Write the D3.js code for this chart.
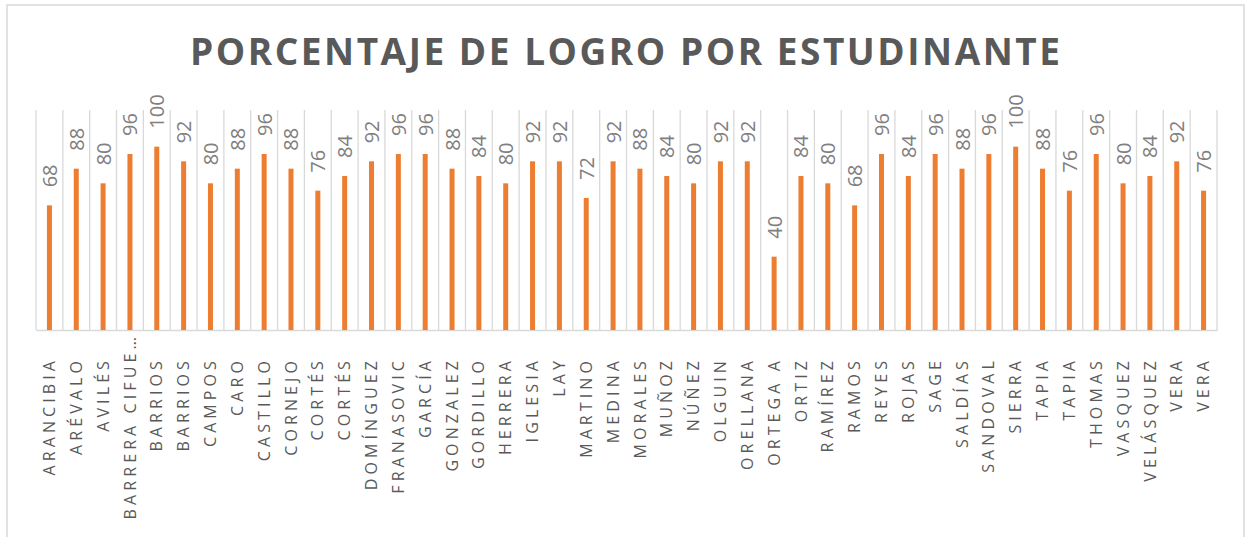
<!DOCTYPE html>
<html>
<head>
<meta charset="utf-8">
<script src="https://cdn.jsdelivr.net/npm/d3@7"></script>
<style>
  body { margin: 0; background: #fff; }
  svg { display: block; }
</style>
</head>
<body>
<div id="chart"></div>
<script>
const width = 1246;
const height = 537;

const students = ["ARANCIBIA", "ARÉVALO", "AVILÉS", "BARRERA CIFUE…", "BARRIOS", "BARRIOS", "CAMPOS", "CARO",
  "CASTILLO", "CORNEJO", "CORTÉS", "CORTÉS", "DOMÍNGUEZ", "FRANASOVIC", "GARCÍA", "GONZALEZ", "GORDILLO",
  "HERRERA", "IGLESIA", "LAY", "MARTINO", "MEDINA", "MORALES", "MUÑOZ", "NÚÑEZ", "OLGUIN", "ORELLANA",
  "ORTEGA A", "ORTIZ", "RAMÍREZ", "RAMOS", "REYES", "ROJAS", "SAGE", "SALDÍAS", "SANDOVAL", "SIERRA",
  "TAPIA", "TAPIA", "THOMAS", "VASQUEZ", "VELÁSQUEZ", "VERA", "VERA"];
const logro = [68, 88, 80, 96, 100, 92, 80, 88, 96, 88, 76, 84, 92, 96, 96, 88, 84, 80, 92, 92, 72, 92,
  88, 84, 80, 92, 92, 40, 84, 80, 68, 96, 84, 96, 88, 96, 100, 88, 76, 96, 80, 84, 92, 76];
const yMax = 120;

const margin = {top: 110, right: 29, bottom: 207, left: 36};

const svg = d3.select("#chart")
  .append("svg")
  .attr("width", width)
  .attr("height", height);

// chart frame
svg.append("rect")
  .attr("x", 7).attr("y", 5)
  .attr("width", 1237).attr("height", 540)
  .attr("fill", "none")
  .attr("stroke", "#d9d9d9")
  .attr("stroke-width", 1.5);

svg.append("text")
  .attr("x", 625).attr("y", 65)
  .attr("text-anchor", "middle")
  .attr("textLength", 870)
  .attr("lengthAdjust", "spacing")
  .style("font-family", "'Open Sans', sans-serif")
  .style("font-weight", "bold")
  .style("font-size", "37px")
  .attr("fill", "#595959")
  .text("PORCENTAJE DE LOGRO POR ESTUDINANTE");

const idx = d3.range(students.length);
const x = d3.scaleBand()
  .domain(idx)
  .range([margin.left, width - margin.right]);
const y = d3.scaleLinear()
  .domain([0, yMax])
  .range([height - margin.bottom, margin.top]);

// vertical gridlines between categories
const g = svg.append("g");
g.selectAll("line.grid")
  .data(d3.range(students.length + 1))
  .join("line")
  .attr("class", "grid")
  .attr("x1", i => margin.left + i * x.step())
  .attr("x2", i => margin.left + i * x.step())
  .attr("y1", y(yMax))
  .attr("y2", y(0))
  .attr("stroke", "#d9d9d9")
  .attr("stroke-width", 1.3);

// baseline + category labels
const xAxis = d3.axisBottom(x).tickSize(0).tickFormat(i => students[i]);
const ax = svg.append("g")
  .attr("transform", `translate(0,${y(0)})`)
  .call(xAxis);
ax.select(".domain").attr("stroke", "#d9d9d9").attr("stroke-width", 1.5);
ax.selectAll(".tick text")
  .attr("transform", "rotate(-90)")
  .attr("x", i => students[i].endsWith("…") ? -3 : -27)
  .attr("y", 0)
  .attr("dy", "0.35em")
  .attr("text-anchor", "end")
  .style("font-family", "'Open Sans', sans-serif")
  .style("font-size", "16px")
  .style("letter-spacing", "4.1px")
  .attr("fill", "#595959");

const bw = 5;
svg.selectAll("rect.bar")
  .data(logro)
  .join("rect")
  .attr("class", "bar")
  .attr("x", (d, i) => x(i) + x.bandwidth() / 2 - bw / 2)
  .attr("y", d => y(d))
  .attr("width", bw)
  .attr("height", d => y(0) - y(d))
  .attr("fill", "#ed7d31");

svg.selectAll("text.val")
  .data(logro)
  .join("text")
  .attr("class", "val")
  .attr("transform", (d, i) => `translate(${x(i) + x.bandwidth() / 2 + 0.5},${y(d) - 18}) rotate(-90)`)
  .attr("dy", "0.35em")
  .style("font-family", "'Liberation Sans Narrow', 'Open Sans', sans-serif")
  .style("font-size", "20px")
  .attr("fill", "#808080")
  .text(d => d);
</script>
</body>
</html>
